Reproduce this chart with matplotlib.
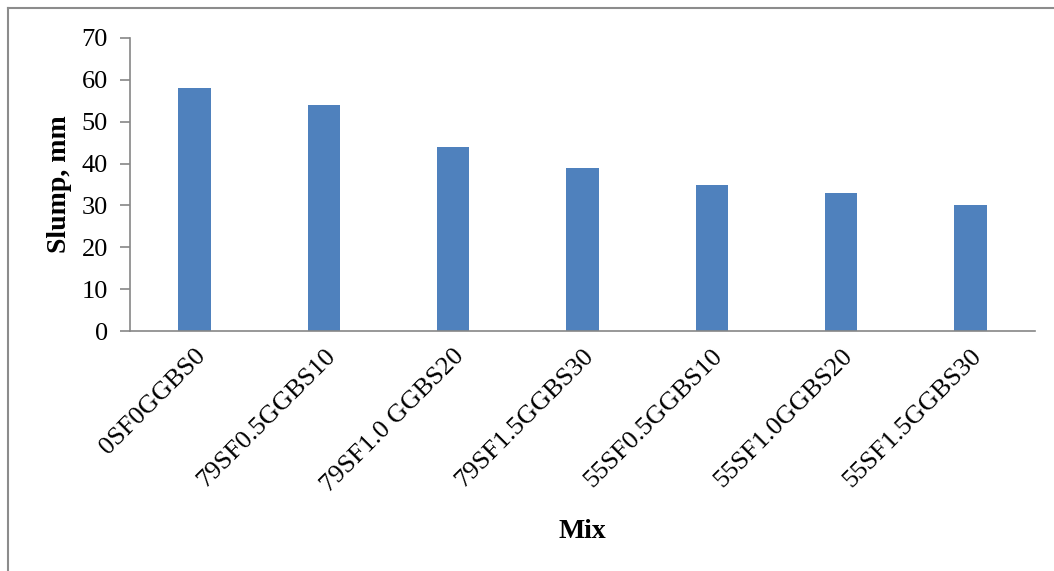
import matplotlib
matplotlib.use("Agg")
import matplotlib.pyplot as plt
from matplotlib.lines import Line2D

mixes = ["0SF0GGBS0", "79SF0.5GGBS10", "79SF1.0 GGBS20", "79SF1.5GGBS30",
         "55SF0.5GGBS10", "55SF1.0GGBS20", "55SF1.5GGBS30"]
slump = [58, 54, 44, 39, 35, 33, 30]
y_ticks = [0, 10, 20, 30, 40, 50, 60, 70]

plt.rcParams["font.family"] = ["Liberation Serif", "DejaVu Serif"]

W, H = 1054, 571
fig = plt.figure(figsize=(W / 100, H / 100), dpi=100)

# outer frame (top and left edges)
fig.add_artist(Line2D([8 / W, 8 / W], [0, 1 - 8 / H], color="#8c8c8c", lw=1.5))
fig.add_artist(Line2D([8 / W, 1], [1 - 8 / H, 1 - 8 / H], color="#8c8c8c", lw=1.5))

ax = fig.add_axes([130 / W, 1 - 331 / H, (1035 - 130) / W, (331 - 38) / H])
x = range(len(mixes))
ax.bar(x, slump, width=0.25, color="#4F81BD", edgecolor="none", zorder=2)

ax.set_xlim(-0.5, len(mixes) - 0.5)
ax.set_ylim(0, 70)
ax.set_yticks(y_ticks)
ax.set_yticklabels([str(v) for v in y_ticks], fontsize=19)
ax.set_xticks(list(x))
ax.set_xticklabels(mixes, rotation=45, ha="right", rotation_mode="anchor", fontsize=19)
ax.tick_params(axis="x", length=0, pad=10)
ax.tick_params(axis="y", length=7, width=1.2, color="#868686", pad=9)

for side in ["top", "right"]:
    ax.spines[side].set_visible(False)
for side in ["left", "bottom"]:
    ax.spines[side].set_color("#868686")
    ax.spines[side].set_linewidth(1.2)

fig.text(60 / W, 1 - 184 / H, "Slump, mm", fontsize=20, fontweight="bold",
         rotation=90, ha="center", va="center")
fig.text(582 / W, 1 - 532 / H, "Mix", fontsize=20, fontweight="bold", ha="center", va="center")

fig.savefig("out.png", dpi=100)
